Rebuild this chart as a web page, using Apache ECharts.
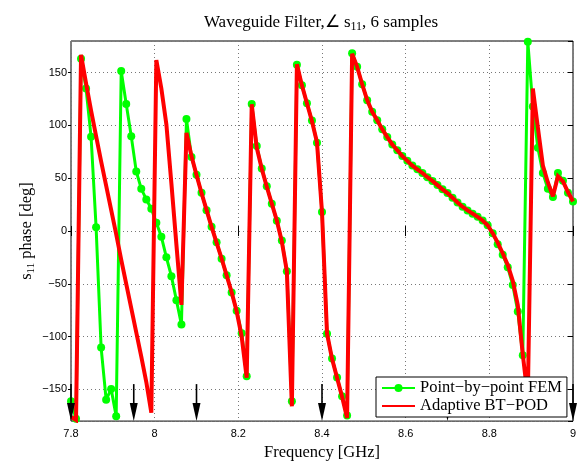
<!DOCTYPE html>
<html>
<head>
<meta charset="utf-8">
<script src="https://cdn.jsdelivr.net/npm/echarts@6/dist/echarts.min.js"></script>
<style>
  html, body { margin: 0; padding: 0; background: #fff; }
  #chart { width: 582px; height: 466px; }
</style>
</head>
<body>
<div id="chart"></div>
<script>
// Frequency grid of the full-wave sweep (GHz)
const freqGHz = [
  7.8, 7.812, 7.824, 7.836, 7.848, 7.86, 7.872, 7.884, 7.896, 7.908,
  7.92, 7.932, 7.944, 7.956, 7.968, 7.98, 7.992, 8.004, 8.016, 8.028,
  8.04, 8.052, 8.064, 8.076, 8.088, 8.1, 8.112, 8.124, 8.136, 8.148,
  8.16, 8.172, 8.184, 8.196, 8.208, 8.22, 8.232, 8.244, 8.256, 8.268,
  8.28, 8.292, 8.304, 8.316, 8.328, 8.34, 8.352, 8.364, 8.376, 8.388,
  8.4, 8.412, 8.424, 8.436, 8.448, 8.46, 8.472, 8.484, 8.496, 8.508,
  8.52, 8.532, 8.544, 8.556, 8.568, 8.58, 8.592, 8.604, 8.616, 8.628,
  8.64, 8.652, 8.664, 8.676, 8.688, 8.7, 8.712, 8.724, 8.736, 8.748,
  8.76, 8.772, 8.784, 8.796, 8.808, 8.82, 8.832, 8.844, 8.856, 8.868,
  8.88, 8.892, 8.904, 8.916, 8.928, 8.94, 8.952, 8.964, 8.976, 8.988,
  9.0
];

// Phase of s11 from the point-by-point FEM solve (deg)
const femPhase = [
  -161.2, -177.8, 163.2, 135, 89.3, 3.5, -110.4, -159.7, -149.7, -175.3,
  151.6, 120.4, 89.9, 56.5, 40, 30, 21.2, 7.8, -5.3, -24.9,
  -42.7, -65.5, -88.6, 106.1, 70.2, 53.4, 36.2, 19.7, 4.1, -10.6,
  -26.2, -41.8, -58.3, -75.4, -96.7, -137.5, 120.4, 80.5, 59.3, 42.5,
  25.9, 9.7, -9, -38, -161.2, 157.6, 138.2, 121, 104.8, 83.6,
  18.1, -97.3, -120.7, -138.8, -156.5, -174.6, 168.4, 155.5, 139, 124,
  113, 105, 96.5, 89, 82, 76.5, 71, 66.5, 62, 58.5,
  55, 51, 47.5, 43.5, 39.5, 36, 31.5, 27, 23, 19.5,
  16.5, 13.5, 10, 5.5, -2, -12.4, -22.4, -34.3, -51.1, -76.1,
  -117.6, 179.4, 117.9, 79, 54.9, 40, 32.2, 54.9, 47.7, 36.2,
  28.1
];

// Phase of s11 from the adaptive BT-POD reduced model (deg)
const btPodPhase = [
  -176, -179, 167, 140, 114, 90, 66, 43, 20, -3,
  -27, -50, -73, -96, -119, -143, -172, 162, 135, 101,
  45, -13, -70, 93, 71, 53, 36, 20, 4, -11,
  -26, -42, -58, -76, -100, -139, 120, 79, 59, 42,
  26, 10, -10, -38, -166, 158, 138, 121, 104, 84,
  18, -97, -121, -139, -157, -177, 168, 155.5, 139, 124,
  113, 105, 96.5, 89, 82, 76.5, 71, 66.5, 62, 58.5,
  55, 51, 47.5, 43.5, 39.5, 36, 31.5, 27, 23, 19.5,
  16.5, 13.5, 10, 5.5, -2, -11, -21, -32, -47, -70,
  -117, -158, 135, 98, 62, 46, 33, 52, 47, 37,
  28
];

// Frequencies where the adaptive scheme placed its 6 samples (GHz)
const sampleFreqs = [7.8, 7.95, 8.1, 8.4, 8.7, 9.0];

const seriesNames = ['Point\u2212by\u2212point FEM', 'Adaptive BT\u2212POD'];

const SERIF = 'Liberation Serif';
const SANS = 'Liberation Sans';

const femData = freqGHz.map((f, i) => [f, femPhase[i]]);
const btData = freqGHz.map((f, i) => [f, btPodPhase[i]]);

const gridDots = { color: '#777', width: 1, type: [1, 3] };

const chart = echarts.init(document.getElementById('chart'), null, { renderer: 'canvas' });

chart.setOption({
  animation: false,
  backgroundColor: '#fff',
  title: {
    text: '{t|Waveguide Filter,\u2220 s}{s|11}{t|, 6 samples}',
    left: 316,
    top: 7,
    textAlign: 'center',
    textStyle: {
      fontWeight: 'normal',
      rich: {
        t: { fontFamily: SERIF, fontSize: 17, fontWeight: 'normal', color: '#000', lineHeight: 21 },
        s: { fontFamily: SERIF, fontSize: 12, fontWeight: 'normal', color: '#000', lineHeight: 10, verticalAlign: 'bottom' }
      }
    }
  },
  grid: {
    left: 71, right: 9, top: 41, bottom: 42,
    show: true, borderColor: '#000', borderWidth: 1,
    backgroundColor: 'transparent'
  },
  legend: {
    data: [
      { name: seriesNames[0] },
      { name: seriesNames[1], itemStyle: { opacity: 0 } }
    ],
    orient: 'vertical',
    left: 376, top: 377,
    padding: [2, 5, 2, 5],
    itemGap: 0,
    itemWidth: 33,
    itemHeight: 10,
    backgroundColor: '#fff',
    borderColor: '#000',
    borderWidth: 1,
    borderRadius: 0,
    textStyle: { fontFamily: SERIF, fontSize: 16.5, color: '#000', lineHeight: 18 }
  },
  xAxis: [
    {
      type: 'value', min: 7.8, max: 9, interval: 0.2, position: 'bottom',
      axisLine: { show: false },
      axisTick: { show: true, inside: true, length: 5, lineStyle: { color: '#000' } },
      axisLabel: { color: '#000', fontFamily: SANS, fontSize: 11, margin: 7 },
      splitLine: { show: true, lineStyle: gridDots },
      name: 'Frequency [GHz]', nameLocation: 'middle', nameGap: 17,
      nameTextStyle: { fontFamily: SERIF, fontSize: 16.5, color: '#000', verticalAlign: 'top' }
    },
    {
      type: 'value', min: 7.8, max: 9, interval: 0.2, position: 'top',
      axisLine: { show: false },
      axisTick: { show: true, inside: true, length: 5, lineStyle: { color: '#000' } },
      axisLabel: { show: false },
      splitLine: { show: false }
    }
  ],
  yAxis: [
    {
      type: 'value', min: -180, max: 180, splitNumber: 7, minInterval: 50, maxInterval: 50,
      position: 'left',
      axisLine: { show: false },
      axisTick: { show: true, inside: false, length: 3, lineStyle: { color: '#000' } },
      axisLabel: {
        color: '#000', fontFamily: SANS, fontSize: 11, margin: 4,
        showMinLabel: false, showMaxLabel: false,
        formatter: v => (v < 0 ? '\u2212' + (-v) : String(v))
      },
      splitLine: { show: true, lineStyle: gridDots },
      name: '{t|s}{s|11}{t| phase [deg]}', nameLocation: 'middle', nameGap: 34, nameRotate: 90,
      nameMoveOverlap: false,
      nameTextStyle: {
        rich: {
          t: { fontFamily: SERIF, fontSize: 16.5, color: '#000', lineHeight: 20 },
          s: { fontFamily: SERIF, fontSize: 11, color: '#000', lineHeight: 10, verticalAlign: 'bottom' }
        }
      }
    },
    {
      type: 'value', min: -180, max: 180, splitNumber: 7, minInterval: 50, maxInterval: 50,
      position: 'right',
      axisLine: { show: false },
      axisTick: { show: true, inside: true, length: 5, lineStyle: { color: '#000' } },
      axisLabel: { show: false },
      splitLine: { show: false }
    }
  ],
  series: [
    {
      name: seriesNames[0],
      type: 'line',
      data: femData,
      symbol: 'circle',
      symbolSize: 8,
      showAllSymbol: true,
      clip: true,
      lineStyle: { color: '#00ff00', width: 3, join: 'miter', miterLimit: 3 },
      itemStyle: { color: '#00ff00' },
      z: 2
    },
    {
      name: seriesNames[1],
      type: 'line',
      data: btData,
      symbol: 'none',
      clip: true,
      lineStyle: { color: '#ff0000', width: 4, join: 'miter', miterLimit: 3 },
      itemStyle: { color: '#ff0000' },
      z: 3
    },
    {
      // sample-location arrows standing on the bottom axis
      name: 'samples',
      type: 'custom',
      data: sampleFreqs.map(f => [f]),
      encode: { x: 0 },
      silent: true,
      z: 3.5,
      renderItem: (params, api) => {
        const base = api.coord([api.value(0), -180]);
        const x = base[0], y = base[1];
        return {
          type: 'group',
          children: [
            { type: 'line', shape: { x1: x, y1: y - 37, x2: x, y2: y - 12 },
              style: { stroke: '#000', lineWidth: 1.6 } },
            { type: 'polygon', shape: { points: [[x - 4, y - 18], [x + 4, y - 18], [x, y]] },
              style: { fill: '#000' } }
          ]
        };
      }
    }
  ]
});
</script>
</body>
</html>
